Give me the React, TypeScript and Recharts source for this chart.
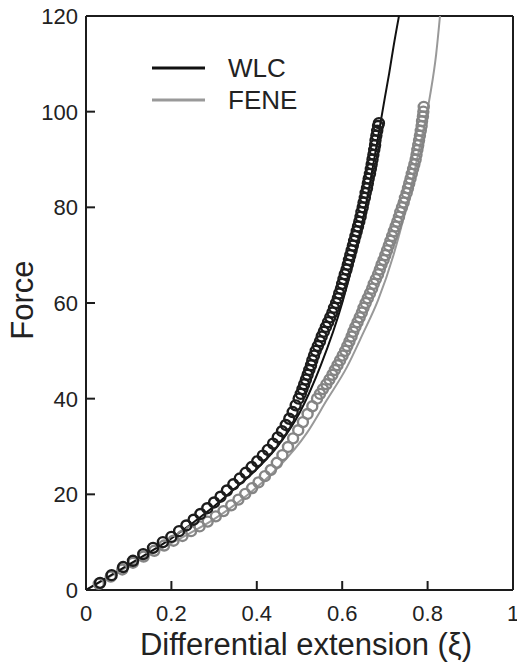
import React from 'react';
import { ComposedChart, Line, Scatter, XAxis, YAxis, ReferenceLine } from 'recharts';

// measured data, [extension, force]
const wlcMeasured: number[][] = [
  [0.033, 1.5], [0.06, 3.1], [0.087, 4.8], [0.11, 6.1], [0.134, 7.5], [0.157, 8.8],
  [0.18, 10.0], [0.2, 11.1], [0.218, 12.3], [0.235, 13.5], [0.252, 14.7], [0.268, 15.9],
  [0.284, 17.1], [0.3, 18.3], [0.315, 19.5], [0.33, 20.8], [0.345, 22.1], [0.36, 23.3],
  [0.374, 24.5], [0.388, 25.7], [0.401, 26.9], [0.414, 28.1], [0.426, 29.3], [0.438, 30.6],
  [0.449, 31.9], [0.459, 33.2], [0.468, 34.5], [0.476, 35.8], [0.484, 37.2], [0.491, 38.6],
  [0.498, 40.0], [0.503, 41], [0.507, 42], [0.511, 43], [0.515, 44], [0.519, 45],
  [0.523, 46], [0.527, 47], [0.53, 48], [0.534, 49], [0.538, 50], [0.543, 51],
  [0.548, 52], [0.552, 53], [0.557, 54], [0.562, 55], [0.567, 56], [0.572, 57],
  [0.577, 58], [0.581, 59], [0.586, 60], [0.59, 61], [0.593, 62], [0.597, 63],
  [0.6, 64], [0.603, 65], [0.606, 66], [0.61, 67], [0.613, 68], [0.616, 69],
  [0.619, 70], [0.622, 71], [0.625, 72], [0.628, 73], [0.631, 74], [0.634, 75],
  [0.637, 76], [0.64, 77], [0.643, 78], [0.645, 79], [0.648, 80], [0.65, 81],
  [0.653, 82], [0.655, 83], [0.658, 84], [0.66, 85], [0.662, 86], [0.665, 87],
  [0.667, 88], [0.669, 89], [0.671, 90], [0.673, 91], [0.675, 92], [0.677, 93],
  [0.678, 94], [0.68, 95], [0.682, 96], [0.684, 97], [0.686, 97.6],
];

const feneMeasured: number[][] = [
  [0.03, 1.3], [0.058, 2.8], [0.085, 4.3], [0.11, 5.7], [0.135, 7.0], [0.16, 8.2],
  [0.183, 9.3], [0.205, 10.3], [0.226, 11.3], [0.246, 12.3], [0.266, 13.3], [0.285, 14.3],
  [0.304, 15.4], [0.322, 16.5], [0.34, 17.7], [0.357, 18.9], [0.373, 20.1], [0.389, 21.3],
  [0.404, 22.5], [0.419, 23.8], [0.433, 25.1], [0.447, 26.6], [0.46, 28.2], [0.473, 29.9],
  [0.485, 31.7], [0.497, 33.4], [0.508, 35.1], [0.519, 36.8], [0.53, 38.4], [0.541, 40],
  [0.548, 41], [0.555, 42], [0.563, 43], [0.57, 44], [0.577, 45], [0.583, 46],
  [0.589, 47], [0.595, 48], [0.601, 49], [0.607, 50], [0.612, 51], [0.617, 52],
  [0.622, 53], [0.626, 54], [0.631, 55], [0.636, 56], [0.641, 57], [0.646, 58],
  [0.65, 59], [0.655, 60], [0.66, 61], [0.665, 62], [0.67, 63], [0.674, 64],
  [0.679, 65], [0.684, 66], [0.688, 67], [0.692, 68], [0.697, 69], [0.701, 70],
  [0.705, 71], [0.709, 72], [0.713, 73], [0.717, 74], [0.721, 75], [0.725, 76],
  [0.729, 77], [0.733, 78], [0.736, 79], [0.74, 80], [0.744, 81], [0.747, 82],
  [0.751, 83], [0.754, 84], [0.757, 85], [0.76, 86], [0.763, 87], [0.766, 88],
  [0.769, 89], [0.772, 90], [0.774, 91], [0.776, 92], [0.778, 93], [0.78, 94],
  [0.782, 95], [0.784, 96], [0.786, 97], [0.787, 98], [0.789, 99], [0.79, 100],
  [0.791, 101],
];

// fitted curves
const wlcFit: number[][] = [
  [0, 0], [0.1, 5.3], [0.2, 10.8], [0.3, 17.5], [0.35, 21.3], [0.4, 25.3], [0.45, 30.2],
  [0.5, 37.0], [0.55, 47.0], [0.6, 60.0], [0.65, 78.0], [0.69, 97.8], [0.7, 103.0],
  [0.71, 108.0], [0.72, 113.5], [0.733, 120],
];

const feneFit: number[][] = [
  [0, 0], [0.1, 5.0], [0.2, 9.8], [0.3, 14.8], [0.384, 20.3], [0.45, 25.6], [0.517, 32.8],
  [0.564, 39.7], [0.611, 46.6], [0.649, 53.7], [0.684, 60.6], [0.72, 70.0], [0.75, 80.0],
  [0.78, 92.0], [0.806, 103.5], [0.82, 112.0], [0.829, 120],
];

const xTicks = [0, 0.2, 0.4, 0.6, 0.8, 1];
const yTicks = [0, 20, 40, 60, 80, 100, 120];

const toRows = (pts: number[][]) => pts.map(([x, f]) => ({ x, f }));

const FONT = '"Liberation Sans", Arial, Helvetica, sans-serif';
const BLACK = '#1c1c1c';
const GRAY = '#858585';

const YTick = (props: any) => {
  const { x, y, payload } = props;
  return (
    <g>
      <line x1={x} y1={y} x2={x + 9} y2={y} stroke={BLACK} strokeWidth={2} />
      <text x={x - 8} y={y + 8} textAnchor="end" fontSize={22} fontFamily={FONT} fill="#222">
        {payload.value}
      </text>
    </g>
  );
};

const XTick = (props: any) => {
  const { x, y, payload } = props;
  return (
    <g>
      <line x1={x} y1={y} x2={x} y2={y - 9} stroke={BLACK} strokeWidth={2} />
      <text x={x} y={y + 31} textAnchor="middle" fontSize={22} fontFamily={FONT} fill="#222">
        {payload.value}
      </text>
    </g>
  );
};

const ring = (color: string) => (p: any) =>
  <circle cx={p.cx} cy={p.cy} r={5} fill="none" stroke={color} strokeWidth={2.4} />;

export default function App() {
  return (
    <div style={{ position: 'absolute', left: 0, top: 0, width: 517, height: 665, background: '#fff' }}>
      <ComposedChart width={517} height={665} margin={{ top: 16, right: 4, left: 0, bottom: 0 }}>
        <XAxis
          type="number"
          dataKey="x"
          domain={[0, 1]}
          ticks={xTicks}
          height={75}
          tickSize={0}
          tickMargin={0}
          tick={<XTick />}
          axisLine={{ stroke: BLACK, strokeWidth: 2 }}
          label={{
            content: () => (
              <text x={306} y={655} textAnchor="middle" fontSize={31} fontFamily={FONT} fill="#222">
                Differential extension (ξ)
              </text>
            ),
          }}
        />
        <YAxis
          type="number"
          dataKey="f"
          domain={[0, 120]}
          ticks={yTicks}
          width={86}
          tickSize={0}
          tickMargin={0}
          tick={<YTick />}
          axisLine={{ stroke: BLACK, strokeWidth: 2 }}
          label={{
            content: () => (
              <text x={33} y={300} transform="rotate(-90 33 300)" textAnchor="middle" fontSize={31} fontFamily={FONT} fill="#222">
                Force
              </text>
            ),
          }}
        />
        <ReferenceLine y={120} stroke={BLACK} strokeWidth={2} />
        <ReferenceLine x={1} stroke={BLACK} strokeWidth={2} />
        <Scatter data={toRows(feneMeasured)} dataKey="f" shape={ring(GRAY)} isAnimationActive={false} />
        <Line data={toRows(feneFit)} dataKey="f" type="monotone" stroke="#999" strokeWidth={2} dot={false} isAnimationActive={false} />
        <Scatter data={toRows(wlcMeasured)} dataKey="f" shape={ring(BLACK)} isAnimationActive={false} />
        <Line data={toRows(wlcFit)} dataKey="f" type="monotone" stroke="#111" strokeWidth={2} dot={false} isAnimationActive={false} />
      </ComposedChart>
      <svg width={220} height={70} style={{ position: 'absolute', left: 148, top: 50 }}>
        <line x1={4} y1={18} x2={57} y2={18} stroke="#111" strokeWidth={3} />
        <line x1={4} y1={50} x2={57} y2={50} stroke="#999" strokeWidth={3} />
        <text x={80} y={27} fontSize={26} fontFamily={FONT} fill="#222">WLC</text>
        <text x={80} y={59} fontSize={26} fontFamily={FONT} fill="#222">FENE</text>
      </svg>
    </div>
  );
}
